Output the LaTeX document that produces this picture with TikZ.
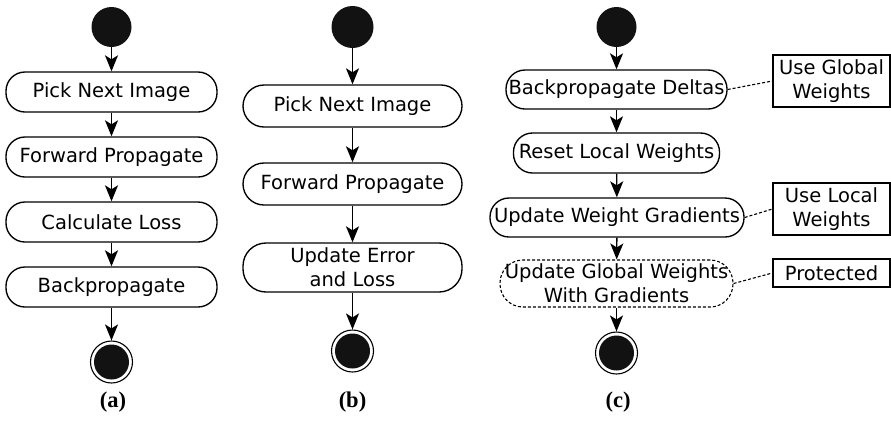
\documentclass[tikz,border=0pt]{standalone}
\usepackage{fontspec}
\setmainfont{DejaVu Sans}
\newfontfamily\capfont{Liberation Serif}
\usetikzlibrary{arrows.meta}
\tikzset{
  x=1bp, y=-1bp,
  every node/.style={font=\fontsize{19.5bp}{24bp}\selectfont},
  startdot/.style={circle, fill=black!93, inner sep=0pt, minimum size=40bp},
  enddot/.style={circle, draw=black, line width=1.1bp, inner sep=0pt, minimum size=42bp,
    path picture={\fill[black!93] (path picture bounding box.center) circle (17.5bp);}},
  action/.style={draw, line width=1.35bp, rounded corners=19bp, inner sep=0pt, align=center},
  protected/.style={action, line width=1.1bp, dash pattern=on 3bp off 2bp},
  note/.style={draw, line width=1.35bp, inner sep=0pt, align=center, minimum width=117bp},
  flow/.style={-{Stealth[length=16bp,width=13bp,inset=4bp]}, line width=1.35bp},
  link/.style={line width=1.1bp, dash pattern=on 3bp off 2bp},
  caption/.style={font=\capfont\bfseries\fontsize{22.5bp}{24bp}\selectfont}
}
\begin{document}
\begin{tikzpicture}
\useasboundingbox (0,0) rectangle (891,420);

% (a) single pass with backpropagation
\node[startdot] (a0) at (111.5,27) {};
\node[action, minimum width=211bp, minimum height=40bp] (a1) at (111.5,92) {Pick Next Image};
\node[action, minimum width=211bp, minimum height=40bp] (a2) at (111.5,157) {Forward Propagate};
\node[action, minimum width=211bp, minimum height=40bp] (a3) at (111.5,222) {Calculate Loss};
\node[action, minimum width=211bp, minimum height=40bp] (a4) at (111.5,287) {Backpropagate};
\node[enddot] (a5) at (111.5,362) {};
\draw[flow] (a0) -- (a1);
\draw[flow] (a1) -- (a2);
\draw[flow] (a2) -- (a3);
\draw[flow] (a3) -- (a4);
\draw[flow] (a4) -- (a5);
\node[caption] (ca) at (113,402) {(a)};

% (b) evaluation pass
\node[startdot, minimum size=42bp] (b0) at (352.5,27) {};
\node[action, rounded corners=21bp, minimum width=219bp, minimum height=42bp] (b1) at (352.5,106) {Pick Next Image};
\node[action, rounded corners=21bp, minimum width=219bp, minimum height=42bp] (b2) at (352.5,184) {Forward Propagate};
\node[action, rounded corners=23bp, minimum width=219bp, minimum height=49bp] (b3) at (352.5,267.5) {Update Error\\and Loss};
\node[enddot] (b4) at (352.5,351) {};
\draw[flow] (b0) -- (b1);
\draw[flow] (b1) -- (b2);
\draw[flow] (b2) -- (b3);
\draw[flow] (b3) -- (b4);
\node[caption] (cb) at (352.5,402) {(b)};

% (c) parallel weight update
\node[startdot] (c0) at (616.5,27) {};
\node[action, minimum width=221bp, minimum height=39bp] (c1) at (616.5,89.5) {Backpropagate Deltas};
\node[action, minimum width=206bp, minimum height=40bp] (c2) at (616.5,153) {Reset Local Weights};
\node[action, minimum width=254bp, minimum height=39bp] (c3) at (617,217.5) {Update Weight Gradients};
\node[protected, rounded corners=23bp, minimum width=233bp, minimum height=47bp] (c4) at (616.5,283.5) {Update Global Weights\\With Gradients};
\node[enddot] (c5) at (616.5,353) {};
\draw[flow] (c0) -- (c1);
\draw[flow] (c1) -- (c2);
\draw[flow] (c2) -- (c3);
\draw[flow] (c3) -- (c4);
\draw[flow] (c4) -- (c5);
\node[caption] (cc) at (618,402) {(c)};

% annotations
\node[note, minimum height=52bp] (n1) at (831.5,81) {Use Global\\Weights};
\node[note, minimum height=52bp] (n2) at (831.5,209) {Use Local\\Weights};
\node[note, minimum height=28bp] (n3) at (831.5,273) {Protected};
\draw[link] (c1.east) -- (n1.west);
\draw[link] (c3.east) -- (n2.west);
\draw[link] (c4.east) -- (n3.west);
\end{tikzpicture}
\end{document}
